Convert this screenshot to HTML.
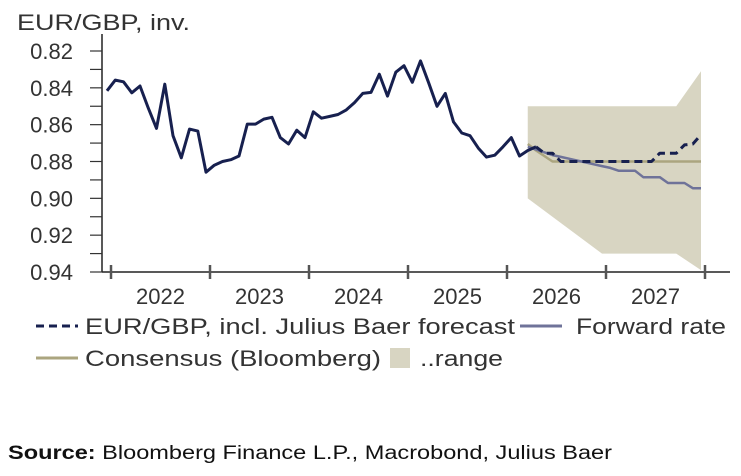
<!DOCTYPE html>
<html><head><meta charset="utf-8"><style>
body{margin:0;background:#fff;}
svg{display:block;font-family:"Liberation Sans",sans-serif;}
</style></head><body>
<svg id="chart" width="741" height="476" viewBox="0 0 741 476" xmlns="http://www.w3.org/2000/svg">
<text x="17" y="30" font-size="22" fill="#333" textLength="173" lengthAdjust="spacingAndGlyphs">EUR/GBP, inv.</text>
<g id="band"></g><g id="grid"></g><g id="lines"></g><g id="axes"></g>
<g font-size="22" fill="#333">
 <line x1="36" y1="326" x2="78" y2="326" stroke="#17204f" stroke-width="3" stroke-dasharray="8,5"/>
 <text x="85" y="334" textLength="430" lengthAdjust="spacingAndGlyphs">EUR/GBP, incl. Julius Baer forecast</text>
 <line x1="520" y1="326" x2="562" y2="326" stroke="#6f7399" stroke-width="3"/>
 <text x="576" y="334" textLength="150" lengthAdjust="spacingAndGlyphs">Forward rate</text>
 <line x1="36" y1="358" x2="78" y2="358" stroke="#aba57f" stroke-width="3"/>
 <text x="85" y="366" textLength="296" lengthAdjust="spacingAndGlyphs">Consensus (Bloomberg)</text>
 <rect x="390" y="348" width="20" height="20" fill="#d8d5c2"/>
 <text x="420" y="366" textLength="83" lengthAdjust="spacingAndGlyphs">..range</text>
</g>
<text x="8" y="459" font-size="19" fill="#111" textLength="604" lengthAdjust="spacingAndGlyphs"><tspan font-weight="bold">Source:</tspan> Bloomberg Finance L.P., Macrobond, Julius Baer</text>
</svg>
<script>
const yTicks=[0.82,0.84,0.86,0.88,0.90,0.92,0.94];
const years=["2022","2023","2024","2025","2026","2027"];
const history=[0.8416,0.8358,0.8367,0.8427,0.839,0.851,0.862,0.838,0.866,0.878,0.8624,0.8635,0.8858,0.882,0.880,0.879,0.877,0.8597,0.8597,0.857,0.856,0.867,0.8705,0.863,0.867,0.853,0.8565,0.8555,0.8545,0.852,0.848,0.843,0.8425,0.8326,0.8445,0.8315,0.828,0.837,0.8254,0.8375,0.850,0.843,0.8585,0.8645,0.866,0.8727,0.8776,0.8766,0.872,0.867,0.877,0.874,0.872];
const jbStart=52;
const jbForecast=[0.872,0.8755,0.8755,0.880,0.880,0.880,0.880,0.880,0.880,0.880,0.880,0.880,0.880,0.880,0.880,0.8755,0.8755,0.8755,0.871,0.8705,0.8655];
const fwdStart=51;
const forward=[0.872,0.8735,0.875,0.8765,0.8775,0.8785,0.8795,0.8805,0.8815,0.8825,0.8835,0.885,0.885,0.885,0.8885,0.8885,0.8885,0.8917,0.8917,0.8917,0.8945,0.8945];
const consStart=51;
const consensus=[0.8705,0.874,0.877,0.880,0.880,0.880,0.880,0.880,0.880,0.880,0.880,0.880,0.880,0.880,0.880,0.880,0.880,0.880,0.880,0.880,0.880,0.880];
const rangeIdx=[51,60,69,72];
const rangeUpper=[0.85,0.85,0.85,0.831];
const rangeLower=[0.90,0.93,0.93,0.939];

const NS="http://www.w3.org/2000/svg";
const x=i=>107+8.25*i;
const y=v=>51+(v-0.82)/0.12*221;
function mk(tag,attrs,parent){const e=document.createElementNS(NS,tag);for(const k in attrs)e.setAttribute(k,attrs[k]);document.getElementById(parent).appendChild(e);return e;}
// band
let pts=rangeIdx.map((d,k)=>x(d)+","+y(rangeUpper[k]));
for(let k=rangeIdx.length-1;k>=0;k--)pts.push(x(rangeIdx[k])+","+y(rangeLower[k]));
const band=mk("polygon",{points:pts.join(" "),fill:"#d8d5c2"},"band");


// axes
const ax=mk("line",{x1:102,y1:34,x2:102,y2:272,stroke:"#222","stroke-width":1.5},"axes");


const xa=mk("line",{x1:102,y1:272,x2:730,y2:272,stroke:"#222","stroke-width":1.5},"axes");


for(let v=0.82;v<=0.9401;v+=0.01){const t=mk("line",{x1:90,x2:102,y1:y(v),y2:y(v),stroke:"#333","stroke-width":1.2},"axes");

}
yTicks.forEach(v=>{const t=mk("text",{x:73,y:y(v)+8,"font-size":22,"text-anchor":"end",fill:"#333"},"axes");t.textContent=v.toFixed(2);

});
for(let k=0;k<=years.length;k++){const xi=x(0.485+12*k);const t=mk("line",{x1:xi,x2:xi,y1:265,y2:279,stroke:"#555","stroke-width":2.5},"axes");

}
years.forEach((yr,k)=>{const t=mk("text",{x:x(6.485+12*k),y:304,"font-size":22,"text-anchor":"middle",fill:"#333"},"axes");t.textContent=yr;

});
function path(arr,start,attrs,name){const d=arr.map((v,k)=>(k?"L":"M")+x(start+k).toFixed(1)+","+y(v).toFixed(1)).join("");const p=mk("path",Object.assign({d:d,fill:"none","stroke-linejoin":"round"},attrs),"lines");

}
path(consensus,consStart,{stroke:"#aba57f","stroke-width":2.5},"consensus-line");
path(forward,fwdStart,{stroke:"#6f7399","stroke-width":2.5},"forward-rate-line");
path(jbForecast,jbStart,{stroke:"#17204f","stroke-width":3,"stroke-dasharray":"8,5"},"jb-forecast-line");
path(history,0,{stroke:"#17204f","stroke-width":3},"eur-gbp-history-line");
</script>
</body></html>
